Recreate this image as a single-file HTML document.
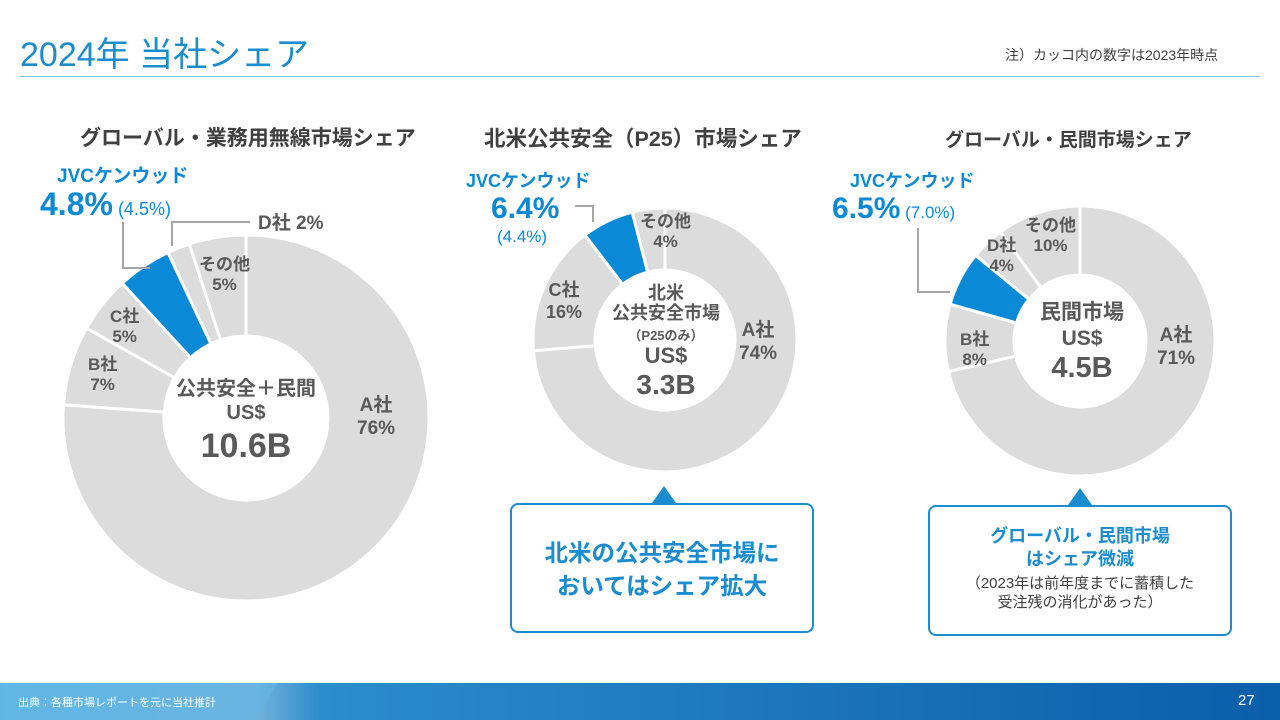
<!DOCTYPE html>
<html><head><meta charset="utf-8">
<style>
*{margin:0;padding:0;box-sizing:border-box}
body{width:1280px;height:720px;background:#fff;position:relative;overflow:hidden;font-family:"Liberation Sans","Noto Sans CJK JP",sans-serif;color:#595959}
.abs{position:absolute}
.b{font-weight:bold}
.lbl{position:absolute;font-weight:bold;color:#595959;text-align:center;line-height:1.2}
.blue{color:#0a8ad6}
.box{position:absolute;border:2.5px solid #1a8ccf;border-radius:8px;background:#fff;text-align:center}
.tri{position:absolute;width:0;height:0;border-left:12px solid transparent;border-right:12px solid transparent;border-bottom:17px solid #1a8ccf}
</style></head><body>
<div class="abs" style="left:20px;top:27px;font-size:34px;color:#1a8ccf">2024年 当社シェア</div>
<div class="abs" style="left:1005px;top:45px;font-size:14px;color:#404040;white-space:nowrap">注）カッコ内の数字は2023年時点</div>
<div class="abs" style="left:20px;top:76px;width:1240px;height:1px;background:#7fc3ea"></div>

<div class="abs b" style="left:80px;top:122px;font-size:21px;color:#404040;white-space:nowrap">グローバル・業務用無線市場シェア</div>
<div class="abs b" style="left:484px;top:122px;font-size:21.5px;color:#404040;white-space:nowrap">北米公共安全（P25）市場シェア</div>
<div class="abs b" style="left:945px;top:125px;font-size:19px;color:#404040;white-space:nowrap">グローバル・民間市場シェア</div>

<svg class="abs" style="left:0;top:0" width="1280" height="720" id="svg">
<polyline points="123,222 123,268 150,268" fill="none" stroke="#a6a6a6" stroke-width="2"/>
<polyline points="172,246 172,222 250,222" fill="none" stroke="#a6a6a6" stroke-width="2"/>
<polyline points="575,206 593,206 593,222" fill="none" stroke="#a6a6a6" stroke-width="2"/>
<polyline points="918,228 918,292 950,292" fill="none" stroke="#a6a6a6" stroke-width="2"/>
</svg>

<div class="lbl blue" style="left:57px;top:166px;font-size:19px">JVCケンウッド</div>
<div class="lbl blue" style="left:40px;top:185px;font-size:32px">4.8%<span style="font-size:18px;font-weight:normal"> (4.5%)</span></div>
<div class="lbl" style="left:258px;top:213px;font-size:19px">D社 2%</div>
<div class="lbl" style="left:199px;top:255px;font-size:17px">その他<br>5%</div>
<div class="lbl" style="left:110px;top:307px;font-size:17px">C社<br>5%</div>
<div class="lbl" style="left:88px;top:355px;font-size:17px">B社<br>7%</div>
<div class="lbl" style="left:357px;top:395px;font-size:19px">A社<br>76%</div>
<div class="lbl" style="left:156px;top:377px;width:180px;font-size:20px;line-height:1.22">公共安全＋民間<br>US$<br><span style="font-size:34px">10.6B</span></div>

<div class="lbl blue" style="left:466px;top:171px;font-size:18px">JVCケンウッド</div>
<div class="lbl blue" style="left:491px;top:191px;font-size:30px">6.4%</div>
<div class="lbl blue" style="left:497px;top:227px;font-size:17px;font-weight:normal">(4.4%)</div>
<div class="lbl" style="left:640px;top:212px;font-size:17px">その他<br>4%</div>
<div class="lbl" style="left:546px;top:280px;font-size:18px">C社<br>16%</div>
<div class="lbl" style="left:739px;top:320px;font-size:19px">A社<br>74%</div>
<div class="lbl" style="left:593px;top:283px;width:146px;font-size:18px;line-height:1.13">北米<br>公共安全市場<br><span style="font-size:13px">（P25のみ）</span><br><span style="font-size:22px">US$</span><br><span style="font-size:28px">3.3B</span></div>

<div class="lbl blue" style="left:850px;top:171px;font-size:18px">JVCケンウッド</div>
<div class="lbl blue" style="left:832px;top:191px;font-size:30px">6.5%<span style="font-size:17px;font-weight:normal"> (7.0%)</span></div>
<div class="lbl" style="left:987px;top:236px;font-size:17px">D社<br>4%</div>
<div class="lbl" style="left:1025px;top:216px;font-size:17px">その他<br>10%</div>
<div class="lbl" style="left:960px;top:330px;font-size:17px">B社<br>8%</div>
<div class="lbl" style="left:1157px;top:325px;font-size:19px">A社<br>71%</div>
<div class="lbl" style="left:1016px;top:300px;width:132px;font-size:21px;line-height:1.22">民間市場<br>US$<br><span style="font-size:29px">4.5B</span></div>

<div class="tri" style="left:652px;top:486px"></div>
<div class="box" style="left:510px;top:503px;width:304px;height:130px;padding-top:32px;font-size:23.5px;font-weight:bold;color:#1a8ccf;line-height:1.4;white-space:nowrap">北米の公共安全市場に<br>おいてはシェア拡大</div>
<div class="tri" style="left:1068px;top:488px"></div>
<div class="box" style="left:928px;top:505px;width:304px;height:131px;padding-top:18px;line-height:1.3"><div style="font-size:18px;font-weight:bold;color:#1a8ccf">グローバル・民間市場<br>はシェア微減</div><div style="font-size:15px;color:#404040;margin-top:2px">（2023年は前年度までに蓄積した<br>受注残の消化があった）</div></div>

<div class="abs" style="left:0;top:683px;width:1280px;height:37px;background:linear-gradient(90deg,#5cb6e6 0%,#72b2dc 20%,#2c8ccc 25%,#0a5eaa 100%)"></div>
<svg class="abs" style="left:0;top:683px" width="1280" height="37"><polygon points="0,0 278,0 255,37 0,37" fill="#63b6e4" opacity="0.55"/></svg>
<div class="abs" style="left:18px;top:694px;font-size:11px;color:#fff">出典：各種市場レポートを元に当社推計</div>
<div class="abs" style="left:1238px;top:692px;font-size:15px;color:#fff">27</div>

<script>
const globalCats=["A社","B社","C社","JVCケンウッド","D社","その他"];
const globalVals=[76,7,5,4.8,2,5];
const naCats=["A社","C社","JVCケンウッド","その他"];
const naVals=[74,16,6.4,4];
const privCats=["A社","B社","JVCケンウッド","D社","その他"];
const privVals=[71,8,6.5,4,10];
const NS="http://www.w3.org/2000/svg";
const svg=document.getElementById("svg");
function donut(cats,vals,cx,cy,R,r,key){
  const tot=vals.reduce((a,b)=>a+b,0);
  let acc=0;
  const g=document.createElementNS(NS,"g");
  svg.insertBefore(g,svg.firstChild);
  vals.forEach((v,i)=>{
    const a0=acc/tot*2*Math.PI; acc+=v; const a1=acc/tot*2*Math.PI;
    const p=(a,rad)=>[cx+rad*Math.sin(a),cy-rad*Math.cos(a)];
    const [x0,y0]=p(a0,R),[x1,y1]=p(a1,R),[x2,y2]=p(a1,r),[x3,y3]=p(a0,r);
    const L=(a1-a0)>Math.PI?1:0;
    const path=document.createElementNS(NS,"path");
    path.setAttribute("d",`M${x0},${y0}A${R},${R} 0 ${L} 1 ${x1},${y1}L${x2},${y2}A${r},${r} 0 ${L} 0 ${x3},${y3}Z`);
    path.setAttribute("fill",cats[i]==="JVCケンウッド"?"#0a8ad6":"#dcdcdc");
    path.setAttribute("stroke","#fff");
    path.setAttribute("stroke-width","3");
    
    
    g.appendChild(path);
  });
}
donut(globalCats,globalVals,246,418,183,82,"global");
donut(naCats,naVals,665,340,132,70,"na");
donut(privCats,privVals,1080,341,135,66,"private");
</script>
</body></html>
